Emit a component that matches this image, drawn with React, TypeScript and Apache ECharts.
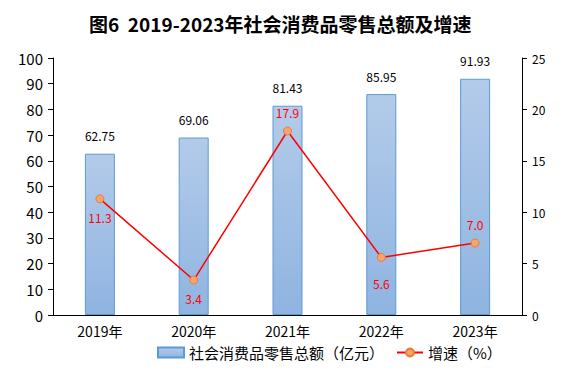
import React, { useEffect, useRef } from "react";
import * as echarts from "echarts";

const categories = ["2019年", "2020年", "2021年", "2022年", "2023年"];
const salesValues = [62.75, 69.06, 81.43, 85.95, 91.93];
const growthValues = [11.3, 3.4, 17.9, 5.6, 7.0];
const growthLabelPos = ["below", "below", "above", "below", "above"];

export default function App() {
  const ref = useRef<HTMLDivElement>(null);
  useEffect(() => {
    if (!ref.current) return;
    const chart = echarts.init(ref.current, null, { renderer: "svg" });
    const font = "'Noto Sans CJK SC', 'Noto Sans', sans-serif";
    chart.setOption({
      animation: false,
      textStyle: { fontFamily: font },
      title: {
        text: "图6  2019-2023年社会消费品零售总额及增速",
        left: 84,
        top: 9,
        textStyle: { fontSize: 19, fontWeight: "bold", color: "#000", fontFamily: font },
      },
      grid: { left: 53, right: 50, top: 58, bottom: 62 },
      legend: {
        bottom: 12,
        left: 152,
        itemGap: 12,
        itemWidth: 26,
        itemHeight: 10,
        textStyle: { fontSize: 15, color: "#000" },
        data: [
          { name: "社会消费品零售总额（亿元）", icon: "rect" },
          { name: "增速（%）" },
        ],
      },
      xAxis: {
        type: "category",
        data: categories,
        axisLine: { lineStyle: { color: "#000", width: 1 } },
        axisTick: { show: false },
        axisLabel: { color: "#000", fontSize: 14, margin: 9 },
      },
      yAxis: [
        {
          type: "value",
          min: 0,
          max: 100,
          interval: 10,
          splitLine: { show: false },
          axisLine: { show: true, lineStyle: { color: "#000" } },
          axisTick: { show: true, length: 5, lineStyle: { color: "#000" } },
          axisLabel: { color: "#000", fontSize: 15, margin: 10 },
        },
        {
          type: "value",
          min: 0,
          max: 25,
          interval: 5,
          splitLine: { show: false },
          axisLine: { show: true, lineStyle: { color: "#000" } },
          axisTick: { show: true, length: 5, lineStyle: { color: "#000" } },
          axisLabel: { color: "#000", fontSize: 12, margin: 10 },
        },
      ],
      series: [
        {
          name: "社会消费品零售总额（亿元）",
          type: "bar",
          data: salesValues,
          barWidth: 30,
          itemStyle: {
            color: new echarts.graphic.LinearGradient(0, 0, 0, 1, [
              { offset: 0, color: "#b3cbe9" },
              { offset: 1, color: "#8fb4e1" },
            ]),
            borderColor: "#5b9bd5",
            borderWidth: 1,
          },
          label: {
            show: true,
            position: "top",
            distance: 12,
            color: "#000",
            fontSize: 12,
            formatter: (p: any) => p.value.toFixed(2),
          },
        },
        {
          name: "增速（%）",
          type: "line",
          yAxisIndex: 1,
          data: growthValues.map((v, i) => ({
            value: v,
            label: {
              position: growthLabelPos[i] === "below" ? "bottom" : "top",
              distance: growthLabelPos[i] === "below" ? (i === 3 ? 16 : 8) : 8,
            },
          })),
          symbol: "circle",
          symbolSize: 8,
          lineStyle: { color: "#ff0000", width: 1.5 },
          itemStyle: { color: "#f4a46e", borderColor: "#ed7d31", borderWidth: 1 },
          label: {
            show: true,
            color: "#ff0000",
            fontSize: 12,
            formatter: (p: any) => Number(p.value).toFixed(1),
          },
        },
      ],
    });
    return () => chart.dispose();
  }, []);
  return (
    <div
      ref={ref}
      style={{ position: "absolute", left: 0, top: 0, width: 572, height: 377 }}
    />
  );
}
